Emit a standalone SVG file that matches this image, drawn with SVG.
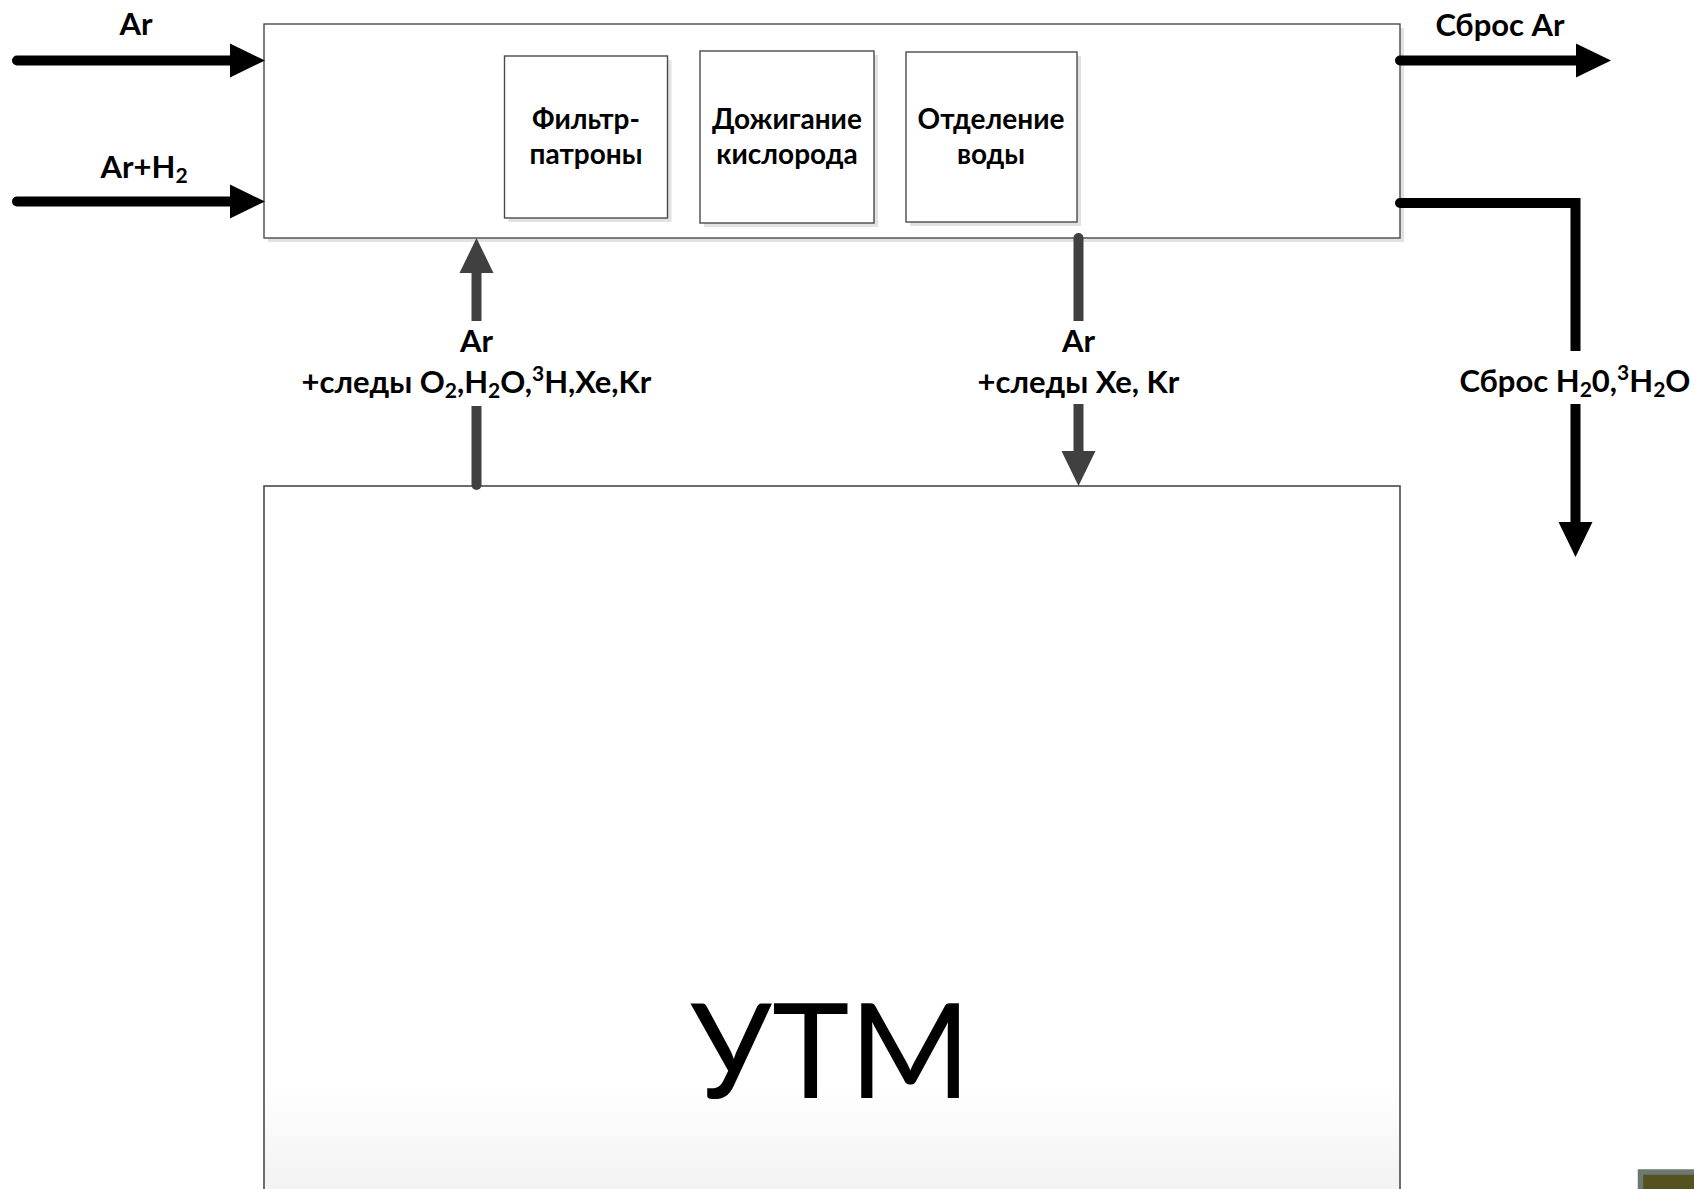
<svg xmlns="http://www.w3.org/2000/svg" width="1694" height="1189" viewBox="0 0 1694 1189">
  <style>
    .box { fill: #ffffff; stroke: #4a4a4a; stroke-width: 1.4; }
    .shadow { fill: #e2e2e2; }
    .txt { font-family: Lato, "Liberation Sans", sans-serif; font-weight: bold; font-size: 31px; fill: #000000; text-anchor: middle; }
    .stage { font-size: 28px; }
    .small { font-size: 21px; }
    .flow { fill: none; stroke: #000000; stroke-width: 10; stroke-linecap: round; stroke-linejoin: miter; }
    .flow-gray { fill: none; stroke: #404040; stroke-width: 10; stroke-linecap: round; }
    .label-bg { fill: #ffffff; }
  </style>
  <defs>
    <marker id="head-black" markerUnits="userSpaceOnUse" markerWidth="36" markerHeight="36" viewBox="0 -18 36 36" refX="0" refY="0" orient="auto">
      <path d="M0,-17 L35,0 L0,17 Z" fill="#000000"/>
    </marker>
    <marker id="head-gray" markerUnits="userSpaceOnUse" markerWidth="36" markerHeight="36" viewBox="0 -18 36 36" refX="0" refY="0" orient="auto">
      <path d="M0,-17 L35,0 L0,17 Z" fill="#404040"/>
    </marker>
    <linearGradient id="utm-fill" gradientUnits="userSpaceOnUse" x1="0" y1="1085" x2="0" y2="1189">
      <stop offset="0" stop-color="#ffffff"/>
      <stop offset="1" stop-color="#f2f2f2"/>
    </linearGradient>
  </defs>

  <rect width="1694" height="1189" fill="#ffffff"/>

  <!-- Purification unit with its three stages -->
  <g id="purification-unit">
    <rect class="shadow" x="268" y="28" width="1136" height="214"/>
    <rect class="box" x="264" y="24" width="1136" height="214"/>
  </g>
  <g id="filter-cartridges">
    <rect class="shadow" x="508.5" y="60" width="163" height="162"/>
    <rect class="box" x="504.5" y="56" width="163" height="162"/>
    <text class="txt stage" x="586" y="129">Фильтр-<tspan x="586" y="164">патроны</tspan></text>
  </g>
  <g id="oxygen-afterburning">
    <rect class="shadow" x="704" y="55" width="174" height="172"/>
    <rect class="box" x="700" y="51" width="174" height="172"/>
    <text class="txt stage" x="787" y="129">Дожигание<tspan x="787" y="164">кислорода</tspan></text>
  </g>
  <g id="water-separation">
    <rect class="shadow" x="910" y="56" width="171" height="170"/>
    <rect class="box" x="906" y="52" width="171" height="170"/>
    <text class="txt stage" x="991" y="129">Отделение<tspan x="991" y="164">воды</tspan></text>
  </g>

  <!-- УТМ unit, continues below the sheet edge -->
  <g id="utm">
    <rect x="264" y="486" width="1136" height="760" fill="url(#utm-fill)" stroke="#4a4a4a" stroke-width="1.6"/>
    <text x="830.5" y="1098" font-family="Lato, 'Liberation Sans', sans-serif" font-size="131" fill="#000000" text-anchor="middle">УТМ</text>
  </g>

  <!-- Flows -->
  <g id="connectors">
    <g id="flow-ar-in">
      <path class="flow" d="M17,60.5 H230" marker-end="url(#head-black)"/>
      <text class="txt" x="136" y="35">Ar</text>
    </g>
    <g id="flow-ar-h2-in">
      <path class="flow" d="M17,201.5 H230" marker-end="url(#head-black)"/>
      <text class="txt" x="144" y="178">Ar+H<tspan class="small" dy="5">2</tspan></text>
    </g>
    <g id="flow-ar-out">
      <path class="flow" d="M1400,60.5 H1576" marker-end="url(#head-black)"/>
      <text class="txt" x="1500" y="36">Сброс Ar</text>
    </g>
    <g id="flow-water-out">
      <path class="flow" d="M1400,203 H1575.5 V522" marker-end="url(#head-black)"/>
      <rect class="label-bg" x="1458" y="351" width="236" height="53"/>
      <text class="txt" x="1575" y="392">Сброс H<tspan class="small" dy="5">2</tspan><tspan dy="-5">0,</tspan><tspan class="small" dy="-12">3</tspan><tspan dy="12">H</tspan><tspan class="small" dy="5">2</tspan><tspan dy="-5">O</tspan></text>
    </g>
    <g id="flow-utm-to-unit">
      <path class="flow-gray" d="M476.5,485 V273" marker-end="url(#head-gray)"/>
      <rect class="label-bg" x="284" y="321" width="386" height="85"/>
      <text class="txt" x="476.5" y="352">Ar</text>
      <text class="txt" x="476.5" y="393">+следы O<tspan class="small" dy="5">2</tspan><tspan dy="-5">,H</tspan><tspan class="small" dy="5">2</tspan><tspan dy="-5">O,</tspan><tspan class="small" dy="-12">3</tspan><tspan dy="12">H,Xe,Kr</tspan></text>
    </g>
    <g id="flow-unit-to-utm">
      <path class="flow-gray" d="M1078.5,238 V451" marker-end="url(#head-gray)"/>
      <rect class="label-bg" x="964" y="321" width="230" height="83"/>
      <text class="txt" x="1078.5" y="352">Ar</text>
      <text class="txt" x="1078.5" y="393">+следы Xe, Kr</text>
    </g>
  </g>

  <!-- Corner element at the lower right edge -->
  <rect x="1640.5" y="1172" width="100" height="100" fill="#545320" stroke="#6d7871" stroke-width="5.5"/>
</svg>
